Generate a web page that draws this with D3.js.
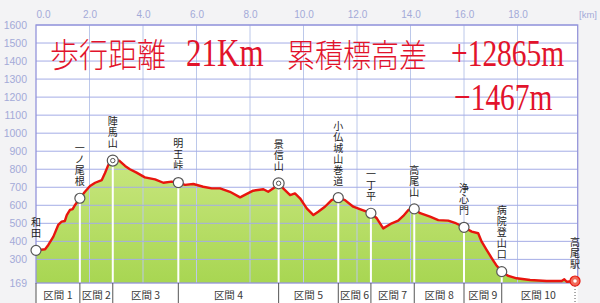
<!DOCTYPE html>
<html>
<head>
<meta charset="utf-8">
<script src="https://cdn.jsdelivr.net/npm/d3@7"></script>
<style>
  body { margin: 0; background: #f3f3f5; }
  svg { display: block; }
</style>
</head>
<body>
<div id="chart"></div>
<script>
// elevation profile (km, m)
var profileKm = [0.0, 0.34, 0.46, 0.65, 0.83, 0.96, 1.08, 1.15, 1.27, 1.37, 1.46, 1.64, 1.83, 2.02, 2.21, 2.46, 2.58, 2.70, 2.87, 3.11,
    3.33, 3.51, 3.76, 4.07, 4.45, 4.76, 5.07, 5.32, 5.57, 5.88, 6.25, 6.57, 6.88, 7.25, 7.63, 7.88, 8.12, 8.50, 8.68, 8.93,
    9.07, 9.24, 9.50, 9.68, 9.87, 10.12, 10.37, 10.55, 10.80, 11.05, 11.30, 11.55, 11.86, 12.18, 12.52, 12.74, 12.98, 13.30, 13.54, 13.73,
    13.92, 14.14, 14.36, 14.73, 15.04, 15.41, 15.66, 16.0, 16.29, 16.53, 16.66, 16.85, 17.04, 17.20, 17.41, 17.66, 17.97, 18.47, 19.09, 19.65,
    19.75, 19.84, 20.15];
var profileElev = [350, 356, 380, 426, 491, 509, 513, 546, 574, 579, 602, 639, 675, 707, 725, 740, 779, 823, 848, 848,
    818, 800, 781, 755, 744, 725, 731, 726, 713, 718, 703, 694, 694, 675, 644, 663, 681, 689, 675, 700,
    722, 694, 657, 666, 639, 583, 546, 564, 592, 629, 642, 629, 592, 574, 556, 528, 472, 500, 515, 541,
    574, 580, 556, 537, 518, 515, 503, 478, 454, 445, 398, 352, 306, 269, 232, 208, 195, 186, 180, 180,
    190, 176, 180];

// waypoints
var wpNames = ["和田", "一ノ尾根", "陣馬山", "明王峠", "景信山", "小仏城山巻道", "一丁平", "高尾山", "浄心門", "病院登山口", "高尾駅"];
var wpKm = [0.0, 1.64, 2.87, 5.32, 9.07, 11.30, 12.52, 14.14, 16.0, 17.41, 20.15];
var wpElev = [350, 639, 848, 726, 722, 642, 556, 580, 478, 232, 180];
var summits = ["陣馬山", "景信山"];

var sectionLabels = ["区間 1", "区間 2", "区間 3", "区間 4", "区間 5", "区間 6", "区間 7", "区間 8", "区間 9", "区間 10"];

var yTicks = [169, 300, 400, 500, 600, 700, 800, 900, 1000, 1100, 1200, 1300, 1400, 1500, 1600];
var xTicks = [0, 2, 4, 6, 8, 10, 12, 14, 16, 18];

var width = 600, height = 303;
var plot = { left: 36, right: 577.7, top: 25, bottom: 283 };

var svg = d3.select("#chart").append("svg")
    .attr("width", width)
    .attr("height", height);

svg.append("rect").attr("width", width).attr("height", height).attr("fill", "#f3f3f5");

var x = d3.scaleLinear().domain([0, 20.25]).range([plot.left, plot.right]);
var y = d3.scaleLinear().domain([169, 1600]).range([plot.bottom, plot.top]);

var defs = svg.append("defs");
var grad = defs.append("linearGradient")
    .attr("id", "fillGrad")
    .attr("gradientUnits", "userSpaceOnUse")
    .attr("x1", 0).attr("x2", 0)
    .attr("y1", y(850)).attr("y2", y(169));
grad.append("stop").attr("offset", "0%").attr("stop-color", "#c8e67e");
grad.append("stop").attr("offset", "100%").attr("stop-color", "#a8d652");

// plot background
svg.append("rect")
    .attr("x", plot.left).attr("y", plot.top)
    .attr("width", plot.right - plot.left).attr("height", plot.bottom - plot.top)
    .attr("fill", "#ffffff");

// section band
svg.append("rect")
    .attr("x", plot.left).attr("y", plot.bottom)
    .attr("width", plot.right - plot.left).attr("height", height - plot.bottom)
    .attr("fill", "#ffffff");

var pts = profileKm.map(function (d, i) { return { km: d, elev: profileElev[i] }; });

var area = d3.area()
    .x(function (d) { return x(d.km); })
    .y0(y(169))
    .y1(function (d) { return y(d.elev); });

svg.append("path")
    .datum(pts)
    .attr("d", area)
    .attr("fill", "url(#fillGrad)");

// grid
svg.selectAll(".vgrid")
    .data(xTicks.slice(1))
    .enter()
    .append("line")
    .attr("class", "vgrid")
    .attr("x1", function (d) { return x(d); })
    .attr("x2", function (d) { return x(d); })
    .attr("y1", plot.top).attr("y2", plot.bottom)
    .attr("stroke", "#bcc8ea")
    .attr("stroke-width", 1);

svg.selectAll(".hgrid")
    .data(yTicks.slice(1))
    .enter()
    .append("line")
    .attr("class", "hgrid")
    .attr("x1", plot.left).attr("x2", plot.right)
    .attr("y1", function (d) { return y(d); })
    .attr("y2", function (d) { return y(d); })
    .attr("stroke", "#a4ace6")
    .attr("stroke-width", 1);

// white drop lines under waypoints
svg.selectAll(".drop")
    .data(wpKm.slice(1, wpKm.length - 1))
    .enter()
    .append("line")
    .attr("class", "drop")
    .attr("x1", function (d) { return x(d); })
    .attr("x2", function (d) { return x(d); })
    .attr("y1", function (d, i) { return y(wpElev[i + 1]); })
    .attr("y2", plot.bottom)
    .attr("stroke", "#ffffff")
    .attr("stroke-width", 2);

// border
svg.append("rect")
    .attr("x", plot.left).attr("y", plot.top)
    .attr("width", plot.right - plot.left).attr("height", plot.bottom - plot.top)
    .attr("fill", "none")
    .attr("stroke", "#9494da")
    .attr("stroke-width", 1.3);

// profile line
var line = d3.line()
    .x(function (d) { return x(d.km); })
    .y(function (d) { return y(d.elev); });

svg.append("path")
    .datum(pts)
    .attr("d", line)
    .attr("fill", "none")
    .attr("stroke", "#e8150e")
    .attr("stroke-width", 2.4)
    .attr("stroke-linejoin", "round");

// axes
var yAxis = svg.append("g")
    .attr("transform", "translate(" + plot.left + ",0)")
    .call(d3.axisLeft(y).tickValues(yTicks).tickFormat(d3.format("d")).tickSize(0).tickPadding(9));
yAxis.select(".domain").remove();
yAxis.selectAll("text")
    .attr("fill", "#a3aad8")
    .style("font-family", "'Liberation Sans', Arial, sans-serif")
    .style("font-size", "10.5px");

var xAxis = svg.append("g")
    .attr("transform", "translate(0," + plot.top + ")")
    .call(d3.axisTop(x).tickValues(xTicks).tickFormat(d3.format(".1f")).tickSize(0).tickPadding(7));
xAxis.select(".domain").remove();
xAxis.selectAll("text")
    .attr("fill", "#a3aad8")
    .attr("dx", function (d) { return d === 0 ? "7px" : 0; })
    .style("font-family", "'Liberation Sans', Arial, sans-serif")
    .style("font-size", "10px");

svg.append("text")
    .attr("x", 588).attr("y", 18)
    .attr("text-anchor", "middle")
    .attr("fill", "#a3aad8")
    .style("font-family", "'Liberation Sans', Arial, sans-serif")
    .style("font-size", "9.5px")
    .text("[km]");

// sections
svg.selectAll(".secdiv")
    .data(wpKm)
    .enter()
    .append("line")
    .attr("class", "secdiv")
    .attr("x1", function (d) { return x(d); })
    .attr("x2", function (d) { return x(d); })
    .attr("y1", plot.bottom).attr("y2", height)
    .attr("stroke", "#555")
    .attr("stroke-dasharray", function (d, i) { return i === wpKm.length - 1 ? "1,2" : null; })
    .attr("stroke-width", 1);

svg.selectAll(".seclabel")
    .data(sectionLabels)
    .enter()
    .append("text")
    .attr("class", "seclabel")
    .attr("x", function (d, i) { return (x(wpKm[i]) + x(wpKm[i + 1])) / 2; })
    .attr("y", 299)
    .attr("text-anchor", "middle")
    .attr("fill", "#3a3a3a")
    .style("font-family", "'Noto Sans CJK JP', sans-serif")
    .style("font-size", "10.5px")
    .text(function (d) { return d; });

// waypoint markers
var wp = svg.selectAll(".wp")
    .data(wpNames)
    .enter()
    .append("g")
    .attr("class", "wp")
    .attr("transform", function (d, i) { return "translate(" + x(wpKm[i]) + "," + y(wpElev[i]) + ")"; });

wp.append("circle")
    .attr("r", function (d) { return summits.indexOf(d) >= 0 ? 5.5 : 5; })
    .attr("fill", function (d, i) { return i === wpNames.length - 1 ? "#f06a5a" : "#ffffff"; })
    .attr("stroke", function (d, i) { return i === wpNames.length - 1 ? "#e8150e" : "#555"; })
    .attr("stroke-width", 1.2);

wp.filter(function (d) { return summits.indexOf(d) >= 0; })
    .append("circle")
    .attr("r", 2.2)
    .attr("fill", "none")
    .attr("stroke", "#555")
    .attr("stroke-width", 1);

wp.filter(function (d, i) { return i === wpNames.length - 1; })
    .append("circle")
    .attr("r", 1.8)
    .attr("fill", "#ffffff");

// vertical waypoint names
svg.selectAll(".wpname")
    .data(wpNames)
    .enter()
    .append("text")
    .attr("class", "wpname")
    .attr("x", function (d, i) { return x(wpKm[i]); })
    .attr("y", function (d, i) { return y(wpElev[i]) - 11; })
    .attr("text-anchor", "end")
    .attr("fill", "#222")
    .style("writing-mode", "vertical-rl")
    .style("letter-spacing", "1px")
    .style("font-family", "'Noto Sans CJK JP', sans-serif")
    .style("font-size", "10px")
    .text(function (d) { return d; });

// title
var titleColor = "#e2132b";
var titleParts = [
    { t: "歩行距離", x: 50, y: 67, s: 1.14, f: "'Noto Sans CJK JP', sans-serif", size: 29 },
    { t: "21Km", x: 186, y: 66, s: 1.32, f: "'Liberation Serif', serif", size: 31 },
    { t: "累積標高差", x: 287, y: 67, s: 1.14, f: "'Noto Sans CJK JP', sans-serif", size: 28 },
    { t: "+12865m", x: 451, y: 66, s: 1.32, f: "'Liberation Serif', serif", size: 29.5 },
    { t: "−1467m", x: 454, y: 110, s: 1.32, f: "'Liberation Serif', serif", size: 29.5 }
];

svg.selectAll(".title")
    .data(titleParts)
    .enter()
    .append("text")
    .attr("class", "title")
    .attr("transform", function (d) { return "translate(" + d.x + "," + d.y + ") scale(1," + d.s + ")"; })
    .attr("fill", titleColor)
    .style("font-family", function (d) { return d.f; })
    .style("font-weight", 300)
    .style("font-size", function (d) { return d.size + "px"; })
    .text(function (d) { return d.t; });
</script>
</body>
</html>
